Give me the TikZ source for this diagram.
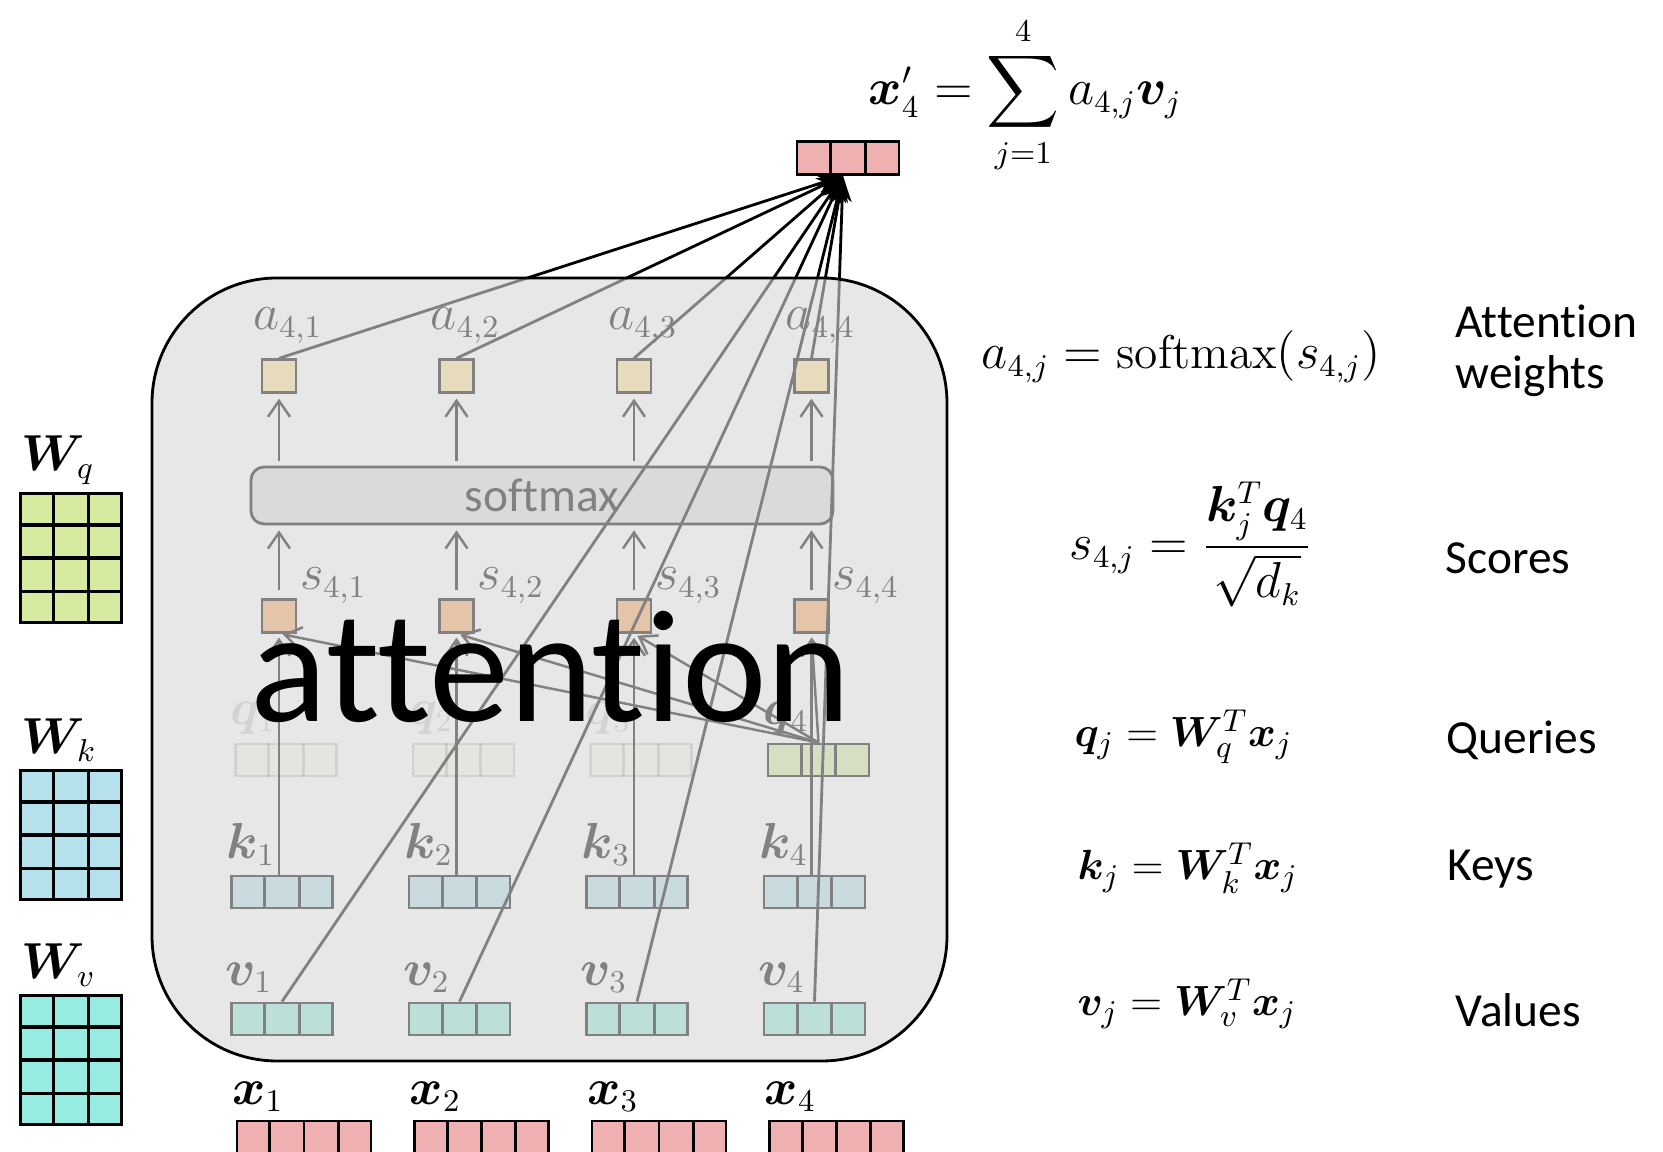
\documentclass[tikz,border=0pt]{standalone}
\usepackage{amsmath}
\usepackage{bm}
\usepackage{fontspec}
\newfontfamily\calibri[RawFeature={-liga;-clig;-calt;-dlig}]{Carlito}
\usetikzlibrary{arrows.meta,calc,positioning}

\definecolor{wqgreen}{RGB}{214,235,160}
\definecolor{wkblue}{RGB}{180,225,236}
\definecolor{wvteal}{RGB}{150,236,224}
\definecolor{xpink}{RGB}{238,176,176}
\definecolor{agold}{RGB}{255,230,153}
\definecolor{speach}{RGB}{248,170,100}
\definecolor{smaxgray}{RGB}{224,224,224}
\definecolor{veil}{RGB}{215,215,215}

% vertical dividers of a vector node
\newcommand{\splitcells}[2]{%
  \pgfmathtruncatemacro\lastcut{#2-1}%
  \foreach \i in {1,...,\lastcut}
    \draw[line width=0.8pt] ($(#1.north west)!\i/#2!(#1.north east)$) -- ($(#1.south west)!\i/#2!(#1.south east)$);%
}
% horizontal dividers of a matrix node
\newcommand{\splitrows}[2]{%
  \pgfmathtruncatemacro\lastcut{#2-1}%
  \foreach \i in {1,...,\lastcut}
    \draw[line width=0.9pt] ($(#1.north west)!\i/#2!(#1.south west)$) -- ($(#1.north east)!\i/#2!(#1.south east)$);%
}

\begin{document}
\begin{tikzpicture}[x=0.1mm,y=-0.1mm,
  lab/.style={inner sep=0pt, font=\fontsize{13.5}{16}\selectfont},
  eqn/.style={inner sep=0pt, font=\fontsize{12.5}{15}\selectfont},
  word/.style={inner sep=0pt, font=\calibri\fontsize{13.5}{14.5}\selectfont},
  cellrow/.style={draw, line width=0.8pt, inner sep=0pt, minimum height=3.2mm},
  unit/.style={draw, line width=0.8pt, inner sep=0pt, minimum width=3.4mm, minimum height=3.25mm},
  wmat/.style={draw, line width=0.9pt, inner sep=0pt, minimum width=10.1mm, minimum height=12.9mm, anchor=north west},
  conn/.style={line width=0.7pt, -{Straight Barb[length=1.6mm,width=2.2mm]}},
  toout/.style={line width=0.8pt, -{Stealth[length=2.6mm,width=1.9mm]}},
]
\useasboundingbox (0,0) rectangle (1663,1152);
% weight matrices
\foreach \name/\ytop/\col/\sub in {Wq/492/wqgreen/q, Wk/769/wkblue/k, Wv/994/wvteal/v}{
  \node[wmat, fill=\col] (\name) at (19,\ytop) {};
  \splitcells{\name}{3}
  \splitrows{\name}{4}
  \node[lab, anchor=south west] (\name lab) at ($(\name.north west)+(2,-7)$) {$\bm{W}_{\sub}$};
}
% output vector
\node[cellrow, fill=xpink, minimum width=10.2mm, minimum height=3.3mm] (out) at (848,158) {};
\splitcells{out}{3}
\coordinate (sink) at ($(out.south)+(-5,0)$);
% softmax bar
\node[draw, line width=0.8pt, fill=smaxgray, rounded corners=1.3mm, minimum width=58.2mm,
  minimum height=5.7mm, inner sep=0pt, font=\calibri\fontsize{13.5}{14.5}\selectfont] (smax) at (542,495.5) {softmax};
% vectors, one column at a time
\foreach \j in {1,...,4}{
  \pgfmathsetmacro\cx{282+177.5*(\j-1)}
  % values and keys
  \node[cellrow, fill=wvteal, minimum width=10.1mm] (v\j) at (\cx,1019) {};
  \splitcells{v\j}{3}
  \node[lab, anchor=south west] (vl\j) at ($(v\j.north west)+(-5,-8)$) {$\bm{v}_{\j}$};
  \node[cellrow, fill=wkblue, minimum width=10.1mm] (k\j) at (\cx,892) {};
  \splitcells{k\j}{3}
  \node[lab, anchor=south west] (kl\j) at ($(k\j.north west)+(-4,-8)$) {$\bm{k}_{\j}$};
  % queries, only the last one in full
  \ifnum\j<4 \def\qop{0.2}\else\def\qop{1}\fi
  \begin{scope}[opacity=\qop]
    \node[cellrow, fill=wqgreen, minimum width=10.1mm] (q\j) at (\cx+4,760) {};
    \splitcells{q\j}{3}
    \node[lab, anchor=south west] (ql\j) at ($(q\j.north west)+(-4,-8)$) {$\bm{q}_{\j}$};
  \end{scope}
  % scores and weights
  \node[unit, fill=speach] (s\j) at (\cx-3,616) {};
  \node[lab, anchor=south west] (sl\j) at ($(s\j.north east)+(2,6)$) {$s_{4,\j}$};
  \node[unit, fill=agold] (a\j) at (\cx-3,376) {};
  \node[lab, anchor=south west] (al\j) at ($(a\j.north west)+(-8,-14)$) {$a_{4,\j}$};
  % inputs
  \node[cellrow, fill=xpink, minimum width=13.4mm] (x\j) at (\cx+22,1137) {};
  \splitcells{x\j}{4}
  \node[lab, anchor=south west] (xl\j) at ($(x\j.north west)+(-4,-7)$) {$\bm{x}_{\j}$};
}
% connectors
\foreach \j in {1,...,4}{
  \draw[conn, shorten <=0.8mm, shorten >=0.5mm] (s\j.north) -- (s\j.north |- smax.south);
  \draw[conn, shorten <=0.5mm, shorten >=0.5mm] (a\j.south |- smax.north) -- (a\j.south);
  \draw[conn, shorten >=0.4mm] (k\j.north -| s\j.south) -- (s\j.south);
  \draw[conn, shorten >=0.4mm] (q4.north) -- (s\j.south);
  \draw[toout] (a\j.north) -- (sink);
  \draw[toout] (v\j.north) -- (sink);
}
% veil over the attention block
\node[draw, line width=0.8pt, fill=veil, fill opacity=0.6, rounded corners=12.5mm,
  minimum width=79.5mm, minimum height=78.3mm] (block) at (549.5,669.5) {};
\node[anchor=base west, inner sep=0pt, font=\calibri\fontsize{45.6}{50}\selectfont] (bigword) at (250,722) {attention};
% equations
\node[lab, anchor=base west] (eqsum) at (868,105) {$\displaystyle \bm{x}'_4 = \sum_{j=1}^{4} a_{4,j}\bm{v}_j$};
\node[lab, anchor=base west] (eqa) at (981,369) {$a_{4,j} = \mathrm{softmax}(s_{4,j})$};
\node[lab, anchor=base west] (eqs) at (1069,560) {$\displaystyle s_{4,j} = \frac{\bm{k}_j^T\bm{q}_4}{\sqrt{d_k}}$};
\node[eqn, anchor=base west] (eqq) at (1074,747) {$\bm{q}_j = \bm{W}_q^T\bm{x}_j$};
\node[eqn, anchor=base west] (eqk) at (1077,880) {$\bm{k}_j = \bm{W}_k^T\bm{x}_j$};
\node[eqn, anchor=base west] (eqv) at (1077,1016) {$\bm{v}_j = \bm{W}_v^T\bm{x}_j$};
% names
\node[word, anchor=north west, align=left] (attw) at (1455,304) {Attention\\weights};
\node[word, anchor=base west] (scores) at (1445,574) {Scores};
\node[word, anchor=base west] (queries) at (1446,754) {Queries};
\node[word, anchor=base west] (keys) at (1447,881) {Keys};
\node[word, anchor=base west] (values) at (1455,1027) {Values};
\end{tikzpicture}
\end{document}
